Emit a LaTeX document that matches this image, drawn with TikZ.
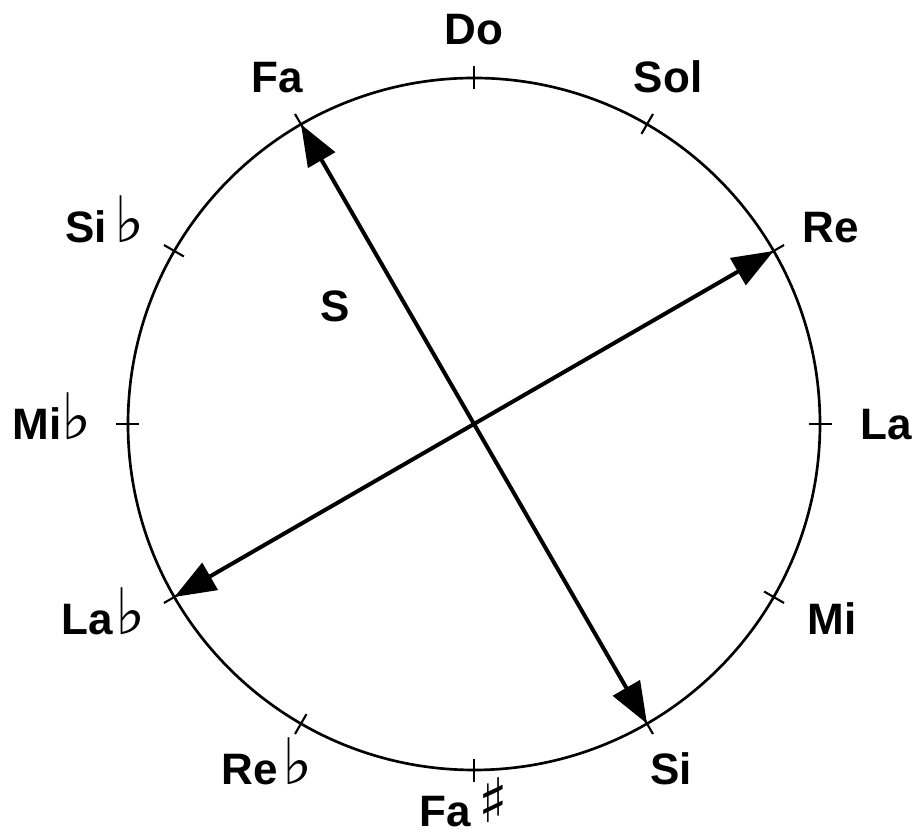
\documentclass[tikz,border=0pt]{standalone}
\usepackage{fontspec}
\setmainfont{Liberation Sans}
\newfontfamily\musicfont{DejaVu Sans}
\usetikzlibrary{arrows.meta}
\newcommand{\flatsign}{{\musicfont\bfseries\fontsize{48}{50}\selectfont ♭}}
\newcommand{\sharpsign}{\raisebox{3pt}{\musicfont\bfseries\fontsize{46}{50}\selectfont ♯}}
\tikzset{
	rim/.style={draw=black,line width=2pt},
	rimtick/.style={draw=black,line width=1.6pt},
	dblarrow/.style={draw=black,line width=3pt,
		{Triangle[length=31pt,width=23pt]}-{Triangle[length=31pt,width=23pt]}},
	note/.style={font=\fontsize{33}{40}\selectfont\bfseries,inner sep=0pt,anchor=base},
}

\begin{document}
\begin{tikzpicture}[x=0.75pt,y=0.75pt]
	\useasboundingbox (-474,-413) rectangle (440,424);
	% circle of fifths
	\coordinate (o) at (0,0);
	\draw[rim] (o) circle (346);
	\foreach \a in {0,30,...,330}
		\draw[rimtick] (\a:335) -- (\a:358);
	% points on the rim
	\coordinate (cFa) at (120:346);
	\coordinate (cSi) at (-60:346);
	\coordinate (cRe) at (30:346);
	\coordinate (cLab) at (210:346);
	\draw[dblarrow] (cFa) -- (cSi);
	\draw[dblarrow] (cLab) -- (cRe);
	% note names
	\node[note] (nDo) at (0,379) {Do};
	\node[note] (nSol) at (194,331) {Sol};
	\node[note] (nRe) at (357,181) {Re};
	\node[note] (nLa) at (412,-16) {La};
	\node[note] (nMi) at (358,-211) {Mi};
	\node[note] (nSi) at (197,-361) {Si};
	\node[note] (nFas) at (-10,-403) {Fa\hspace{6pt}\sharpsign};
	\node[note] (nReb) at (-207,-361) {Re\hspace{3pt}\flatsign};
	\node[note] (nLab) at (-370,-211) {La\hspace{2pt}\flatsign};
	\node[note] (nMib) at (-422,-16) {Mi\flatsign};
	\node[note] (nSib) at (-369,181) {Si\hspace{6pt}\flatsign};
	\node[note] (nFa) at (-197,331) {Fa};
	\node[note] (nS) at (-139,102) {S};
\end{tikzpicture}
\end{document}
